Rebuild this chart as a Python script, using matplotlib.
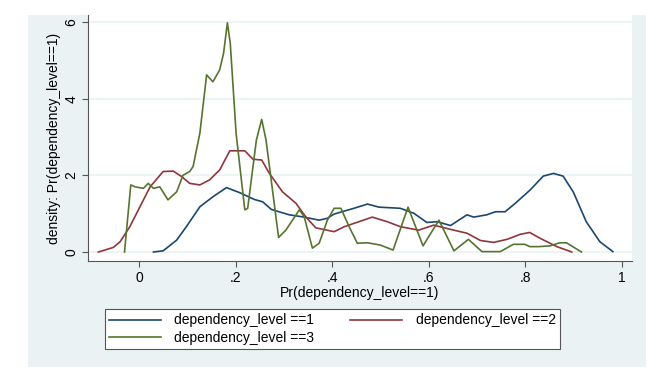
import numpy as np
import matplotlib
matplotlib.use("Agg")
from matplotlib import pyplot as plt
from matplotlib.patches import Rectangle

plt.rcParams['font.family'] = ['Liberation Sans', 'DejaVu Sans']

# kernel density curves
x1 = [0.030, 0.050, 0.078, 0.098, 0.126, 0.153, 0.181, 0.208, 0.239, 0.256, 0.274, 0.311,
      0.342, 0.373, 0.390, 0.404, 0.445, 0.473, 0.497, 0.541, 0.569, 0.596, 0.617, 0.645,
      0.679, 0.693, 0.720, 0.738, 0.758, 0.779, 0.810, 0.837, 0.858, 0.878, 0.899, 0.926,
      0.954, 0.981]
y1 = [0, 0.03, 0.31, 0.66, 1.18, 1.44, 1.68, 1.55, 1.37, 1.31, 1.11, 0.97,
      0.91, 0.83, 0.88, 0.99, 1.14, 1.25, 1.17, 1.14, 1.01, 0.77, 0.79, 0.69,
      0.97, 0.91, 0.97, 1.05, 1.05, 1.27, 1.62, 1.98, 2.05, 1.98, 1.57, 0.79,
      0.27, 0.01]

x2 = [-0.084, -0.053, -0.039, -0.019, 0.002, 0.023, 0.050, 0.071, 0.088, 0.105, 0.126,
      0.146, 0.167, 0.188, 0.219, 0.236, 0.254, 0.270, 0.297, 0.325, 0.345, 0.366, 0.404,
      0.425, 0.483, 0.514, 0.541, 0.579, 0.610, 0.645, 0.679, 0.707, 0.734, 0.762, 0.789,
      0.809, 0.830, 0.865, 0.896]
y2 = [0, 0.12, 0.27, 0.66, 1.18, 1.70, 2.10, 2.11, 1.97, 1.79, 1.75,
      1.88, 2.14, 2.64, 2.64, 2.42, 2.40, 2.05, 1.57, 1.27, 0.92, 0.63, 0.53,
      0.66, 0.91, 0.79, 0.66, 0.57, 0.70, 0.59, 0.49, 0.30, 0.25, 0.33, 0.46,
      0.51, 0.36, 0.14, 0]

x3 = [-0.030, -0.017, -0.008, 0.009, 0.019, 0.030, 0.043, 0.060, 0.078, 0.091, 0.105,
      0.112, 0.126, 0.140, 0.153, 0.167, 0.175, 0.183, 0.189, 0.201, 0.219, 0.225, 0.243,
      0.254, 0.263, 0.289, 0.304, 0.332, 0.342, 0.359, 0.373, 0.390, 0.404, 0.418, 0.435,
      0.452, 0.473, 0.500, 0.526, 0.557, 0.588, 0.621, 0.652, 0.682, 0.710, 0.748, 0.775,
      0.799, 0.809, 0.827, 0.851, 0.871, 0.885, 0.916]
y3 = [0, 1.75, 1.70, 1.66, 1.79, 1.66, 1.70, 1.36, 1.57, 2.0, 2.10,
      2.23, 3.1, 4.62, 4.44, 4.75, 5.18, 5.98, 5.44, 3.10, 1.10, 1.14, 2.92,
      3.46, 2.92, 0.38, 0.57, 1.10, 0.92, 0.10, 0.23, 0.83, 1.14, 1.14, 0.66,
      0.23, 0.24, 0.18, 0.05, 1.17, 0.16, 0.83, 0.03, 0.33, 0.01, 0.01, 0.20,
      0.20, 0.14, 0.14, 0.16, 0.24, 0.24, 0]

labels = ['dependency_level ==1', 'dependency_level ==2', 'dependency_level ==3']
colors = ['#1A476F', '#90353B', '#55752F']
xticks = [0, 0.2, 0.4, 0.6, 0.8, 1]
xticklabels = ['0', '.2', '.4', '.6', '.8', '1']
yticks = [0, 2, 4, 6]

W, H = 670, 385
fig = plt.figure(figsize=(W / 100, H / 100), dpi=100, facecolor='white')

# stata style light graph region
fig.patches.append(Rectangle((28 / W, 1 - 367 / H), (646 - 28) / W, (367 - 15) / H,
                             transform=fig.transFigure, facecolor='#EAF2F3',
                             edgecolor='none', zorder=-5))

ax = fig.add_axes([88 / W, 1 - 261 / H, (632 - 88) / W, (261 - 15) / H])
ax.set_facecolor('white')

lines = []
for xs, ys, c, lab in zip([x1, x2, x3], [y1, y2, y3], colors, labels):
    l, = ax.plot(xs, ys, color=c, lw=1.2, label=lab)
    lines.append(l)

ax.set_xlim(-0.1056, 1.0207)
ax.set_ylim(-0.235, 6.183)
ax.set_xticks(xticks)
ax.set_xticklabels(xticklabels)
ax.set_yticks(yticks)
ax.set_yticklabels([str(v) for v in yticks], rotation=90, va='center')
ax.grid(axis='y', color='#EAF2F3', lw=1.2)
ax.set_axisbelow(True)
for s in ['top', 'right']:
    ax.spines[s].set_visible(False)
for s in ['left', 'bottom']:
    ax.spines[s].set_color('#555555')
    ax.spines[s].set_linewidth(0.8)
ax.tick_params(colors='#555555', labelcolor='black', labelsize=10, length=4, width=0.8, pad=3)

ax.set_xlabel('Pr(dependency_level==1)', fontsize=10, labelpad=1)
ax.set_ylabel('density: Pr(dependency_level==1)', fontsize=10, labelpad=2)

# row-wise order like stata: 1 and 2 on top, 3 below
order = [0, 2, 1]
leg = fig.legend([lines[i] for i in order], [labels[i] for i in order],
                 loc='lower left', ncol=2, mode='expand',
                 bbox_to_anchor=(105 / W, 1 - 349 / H, (560 - 105) / W, 44 / H),
                 fontsize=10, handlelength=3.7, handletextpad=1.0, borderaxespad=0,
                 fancybox=False, framealpha=1, edgecolor='#555555',
                 labelspacing=0.25, borderpad=0.3)
leg.get_frame().set_linewidth(0.8)

fig.savefig('out.png', dpi=100, facecolor='white')
